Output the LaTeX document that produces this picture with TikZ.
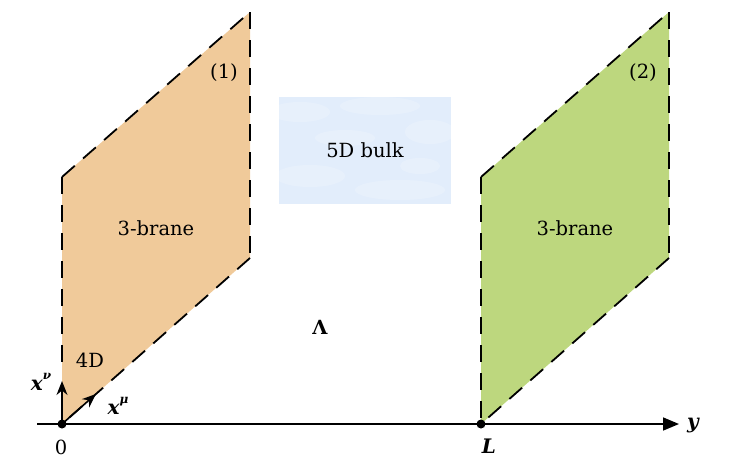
\documentclass[tikz,border=0pt]{standalone}
\usepackage{fontspec}
\setmainfont{DejaVu Serif}
\usetikzlibrary{arrows.meta}
\definecolor{braneA}{RGB}{240,202,154}
\definecolor{braneB}{RGB}{189,215,126}
\definecolor{bulkc}{RGB}{226,237,251}
\newcommand{\supsc}[1]{\raisebox{0.55em}{\fontsize{12}{13}\selectfont\itshape #1}}
\begin{document}
\begin{tikzpicture}[x=1pt,y=-1pt,
  edge/.style={line width=1.8pt, dash pattern=on 17pt off 11pt},
  lbl/.style={font=\fontsize{19.5}{22}\selectfont, inner sep=0pt},
  mlbl/.style={font=\fontsize{20}{22}\selectfont\bfseries\itshape, inner sep=0pt},
  axis/.style={line width=1.6pt},
  vec/.style={line width=1.6pt, -{Stealth[length=14pt,width=11pt]}},
  dot/.style={circle, fill=black, inner sep=0pt, minimum size=9pt},
  cloud/.style={fill=white, opacity=0.2}]
\useasboundingbox (0,0) rectangle (735,471);
% brane 1
\coordinate (A0) at (62,424);
\coordinate (A1) at (62,177);
\coordinate (A2) at (250,12);
\coordinate (A3) at (250,258);
\coordinate (Acut) at (62,370);
% brane 2
\coordinate (B0) at (481,424);
\coordinate (B1) at (481,177);
\coordinate (B2) at (669,12);
\coordinate (B3) at (669,258);
\fill[braneA] (A0) -- (A1) -- (A2) -- (A3) -- cycle;
\fill[braneB] (B0) -- (B1) -- (B2) -- (B3) -- cycle;
\draw[edge] (A1) -- (Acut);
\draw[edge] (A1) -- (A2);
\draw[edge] (A2) -- (A3);
\draw[edge] (A3) -- (A0);
\draw[edge] (B1) -- (B0);
\draw[edge] (B1) -- (B2);
\draw[edge] (B2) -- (B3);
\draw[edge] (B3) -- (B0);
% bulk box
\fill[bulkc] (279,97) rectangle (451,204);
\begin{scope}
  \clip (279,97) rectangle (451,204);
  \fill[cloud] (300,112) ellipse (30pt and 10pt);
  \fill[cloud] (380,106) ellipse (40pt and 9pt);
  \fill[cloud] (430,132) ellipse (25pt and 12pt);
  \fill[cloud] (310,176) ellipse (35pt and 11pt);
  \fill[cloud] (400,190) ellipse (45pt and 10pt);
  \fill[cloud] (345,138) ellipse (30pt and 8pt);
  \fill[cloud] (420,166) ellipse (20pt and 8pt);
\end{scope}
\node[lbl] (bulk) at (365,150) {5D bulk};
% axis
\coordinate (ax0) at (37,424);
\coordinate (ax1) at (679,424);
\draw[axis, -{Triangle[length=16pt,width=13pt]}] (ax0) -- (ax1);
\node[dot] (o) at (A0) {};
\node[dot] (l) at (B0) {};
\coordinate (nu) at (62,381);
\coordinate (mu) at (96,394);
\draw[vec] (o.center) -- (nu);
\draw[vec] (o.center) -- (mu);
% labels
\node[mlbl] (ylab) at (693,426) {y};
\node[lbl] (zero) at (61,447) {0};
\node[mlbl] (Llab) at (489,446) {L};
\node[mlbl] (xnu) at (41,382) {x\supsc{ν}};
\node[mlbl] (xmu) at (118,406) {x\supsc{μ}};
\node[lbl] (fourD) at (90,360) {4D};
\node[lbl] (b1) at (156,228) {3-brane};
\node[lbl] (b2) at (575,228) {3-brane};
\node[lbl] (n1) at (224,73) {(1)};
\node[lbl] (n2) at (643,73) {(2)};
\node[lbl] (lam) at (320,327) {\bfseries Λ};
\end{tikzpicture}
\end{document}
